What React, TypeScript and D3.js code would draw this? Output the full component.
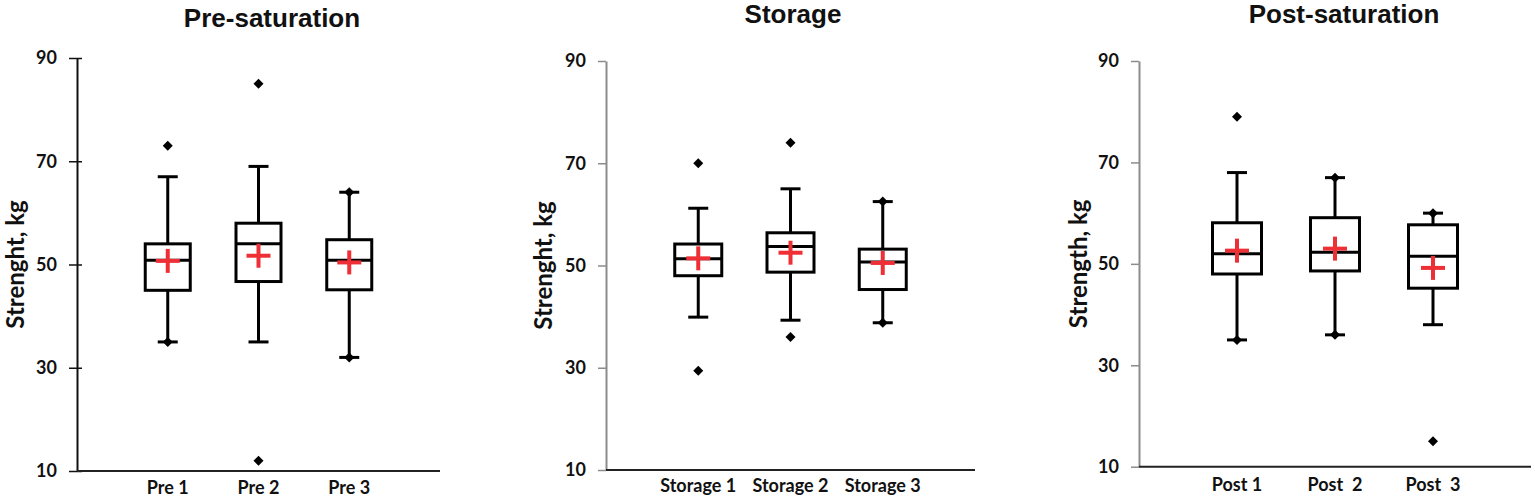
import { useEffect, useRef } from 'react';
import * as d3 from 'd3';

// =============================================================================
// Data
// =============================================================================

const TITLES = ['Pre-saturation', 'Storage', 'Post-saturation'];
const Y_LABELS = ['Strenght, kg', 'Strenght, kg', 'Strength, kg'];
const Y_TICKS = [10, 30, 50, 70, 90];

const PRE_CATEGORIES = ['Pre 1', 'Pre 2', 'Pre 3'];
const PRE_WHISKER_LOW = [35, 35, 32];
const PRE_Q1 = [45, 46.7, 45.1];
const PRE_MEDIAN = [50.8, 54, 50.8];
const PRE_Q3 = [54, 58, 54.8];
const PRE_WHISKER_HIGH = [67, 69, 64];
const PRE_MEAN = [50.7, 51.7, 50.4];
const PRE_POINTS = [[73, 35], [85, 12], [64, 32]];

const STORAGE_CATEGORIES = ['Storage 1', 'Storage 2', 'Storage 3'];
const STORAGE_WHISKER_LOW = [39.9, 39.3, 38.8];
const STORAGE_Q1 = [48, 48.7, 45.3];
const STORAGE_MEDIAN = [51.3, 53.7, 50.7];
const STORAGE_Q3 = [54.2, 56.4, 53.2];
const STORAGE_WHISKER_HIGH = [61.2, 65, 62.5];
const STORAGE_MEAN = [51.4, 52.5, 50.5];
const STORAGE_POINTS = [[70, 29.4], [74, 36], [62.5, 38.8]];

const POST_CATEGORIES = ['Post 1', 'Post  2', 'Post  3'];
const POST_WHISKER_LOW = [35, 36, 38];
const POST_Q1 = [48, 48.6, 45.2];
const POST_MEDIAN = [52, 52.3, 51.5];
const POST_Q3 = [58.1, 59.1, 57.7];
const POST_WHISKER_HIGH = [68, 67, 60];
const POST_MEAN = [52.6, 53, 49.2];
const POST_POINTS = [[79, 35], [67, 36], [60, 15]];

// =============================================================================
// Layout
// =============================================================================

const WIDTH = 1535;
const HEIGHT = 499;
const LABEL_FONT = 'Lato, "DejaVu Sans", sans-serif';
const TITLE_FONT = '"Liberation Sans", Arial, sans-serif';
const RED = '#ee2f36';

const PANELS = [
  { x0: 77, x1: 440, top: 58, bottom: 471, box: 45, yAxisColor: '#111', tickIn: 5, titleX: 272, titleY: 27, yLabelX: 16, labelY: 494 },
  { x0: 606, x1: 975, top: 61, bottom: 470, box: 47, yAxisColor: '#8c8c8c', tickIn: 0, titleX: 793, titleY: 23, yLabelX: 544, labelY: 492 },
  { x0: 1139, x1: 1531, top: 61, bottom: 466.7, box: 49, yAxisColor: '#8c8c8c', tickIn: 0, titleX: 1344, titleY: 23, yLabelX: 1079, labelY: 491 },
];

// =============================================================================
// Component
// =============================================================================

export default function App() {
  const svgRef = useRef<SVGSVGElement>(null);

  useEffect(() => {
    if (!svgRef.current) return;
    const svg = d3.select(svgRef.current);
    svg.selectAll('*').remove();

    const series = [
      { cats: PRE_CATEGORIES, lo: PRE_WHISKER_LOW, q1: PRE_Q1, med: PRE_MEDIAN, q3: PRE_Q3, hi: PRE_WHISKER_HIGH, mean: PRE_MEAN, pts: PRE_POINTS },
      { cats: STORAGE_CATEGORIES, lo: STORAGE_WHISKER_LOW, q1: STORAGE_Q1, med: STORAGE_MEDIAN, q3: STORAGE_Q3, hi: STORAGE_WHISKER_HIGH, mean: STORAGE_MEAN, pts: STORAGE_POINTS },
      { cats: POST_CATEGORIES, lo: POST_WHISKER_LOW, q1: POST_Q1, med: POST_MEDIAN, q3: POST_Q3, hi: POST_WHISKER_HIGH, mean: POST_MEAN, pts: POST_POINTS },
    ];

    series.forEach((s, p) => {
      const L = PANELS[p];
      const x = d3.scalePoint<string>().domain(s.cats).range([L.x0, L.x1]).padding(1);
      const y = d3.scaleLinear().domain([10, 90]).range([L.bottom, L.top]);
      const g = svg.append('g');

      // Title
      g.append('text')
        .attr('x', L.titleX)
        .attr('y', L.titleY)
        .attr('text-anchor', 'middle')
        .attr('font-family', TITLE_FONT)
        .attr('font-weight', 'bold')
        .attr('font-size', '26px')
        .attr('fill', '#111')
        .text(TITLES[p]);

      // Y axis
      const yAxis = d3.axisLeft(y).tickValues(Y_TICKS).tickSizeOuter(0).tickSizeInner(8).tickPadding(12);
      const ya = g.append('g').attr('transform', `translate(${L.x0},0)`).call(yAxis);
      ya.select('.domain').attr('stroke', L.yAxisColor).attr('stroke-width', 2);
      ya.selectAll('.tick line')
        .attr('stroke', L.yAxisColor)
        .attr('stroke-width', 1.5)
        .attr('x2', -8)
        .attr('x1', L.tickIn);
      ya.selectAll('.tick text')
        .attr('font-family', LABEL_FONT)
        .attr('font-weight', 'bold')
        .attr('font-size', '18px')
        .attr('fill', '#111');

      // X axis line
      g.append('line')
        .attr('x1', L.x0)
        .attr('x2', L.x1)
        .attr('y1', y(10))
        .attr('y2', y(10))
        .attr('stroke', '#222')
        .attr('stroke-width', 2);

      // X labels
      g.selectAll('.xlab')
        .data(s.cats)
        .enter()
        .append('text')
        .attr('x', (d) => x(d)!)
        .attr('y', L.labelY)
        .attr('text-anchor', 'middle')
        .attr('font-family', LABEL_FONT)
        .attr('font-weight', 'bold')
        .attr('font-size', '18px')
        .attr('fill', '#111')
        .style('white-space', 'pre')
        .text((d) => d);

      // Y label
      g.append('text')
        .attr('transform', `translate(${L.yLabelX},${(L.top + L.bottom) / 2}) rotate(-90)`)
        .attr('text-anchor', 'middle')
        .attr('dy', '0.35em')
        .attr('font-family', LABEL_FONT)
        .attr('font-weight', 'bold')
        .attr('font-size', '24px')
        .attr('fill', '#111')
        .text(Y_LABELS[p]);

      // Boxes
      s.cats.forEach((c, i) => {
        const cx = x(c)!;
        const bw = L.box;
        const cap = 20;

        const line = (x1: number, y1: number, x2: number, y2: number, color = '#000', w = 3) =>
          g.append('line')
            .attr('x1', x1).attr('y1', y1).attr('x2', x2).attr('y2', y2)
            .attr('stroke', color).attr('stroke-width', w);

        // whiskers
        line(cx, y(s.hi[i]), cx, y(s.q3[i]));
        line(cx, y(s.q1[i]), cx, y(s.lo[i]));
        line(cx - cap / 2, y(s.hi[i]), cx + cap / 2, y(s.hi[i]));
        line(cx - cap / 2, y(s.lo[i]), cx + cap / 2, y(s.lo[i]));

        // box
        g.append('rect')
          .attr('x', cx - bw / 2)
          .attr('y', y(s.q3[i]))
          .attr('width', bw)
          .attr('height', y(s.q1[i]) - y(s.q3[i]))
          .attr('fill', 'none')
          .attr('stroke', '#000')
          .attr('stroke-width', 3);

        // median
        line(cx - bw / 2, y(s.med[i]), cx + bw / 2, y(s.med[i]));

        // min / max and outlier points
        s.pts[i].forEach((v) => {
          g.append('path')
            .attr('d', d3.symbol(d3.symbolDiamond2, 64)())
            .attr('transform', `translate(${cx},${y(v)})`)
            .attr('fill', '#000');
        });

        // mean marker
        const my = y(s.mean[i]);
        line(cx - 12, my, cx + 12, my, RED, 4);
        line(cx, my - 12, cx, my + 12, RED, 4);
      });
    });
  }, []);

  return (
    <svg
      ref={svgRef}
      width={WIDTH}
      height={HEIGHT}
      style={{ position: 'absolute', left: 0, top: 0, background: '#fff' }}
    />
  );
}
